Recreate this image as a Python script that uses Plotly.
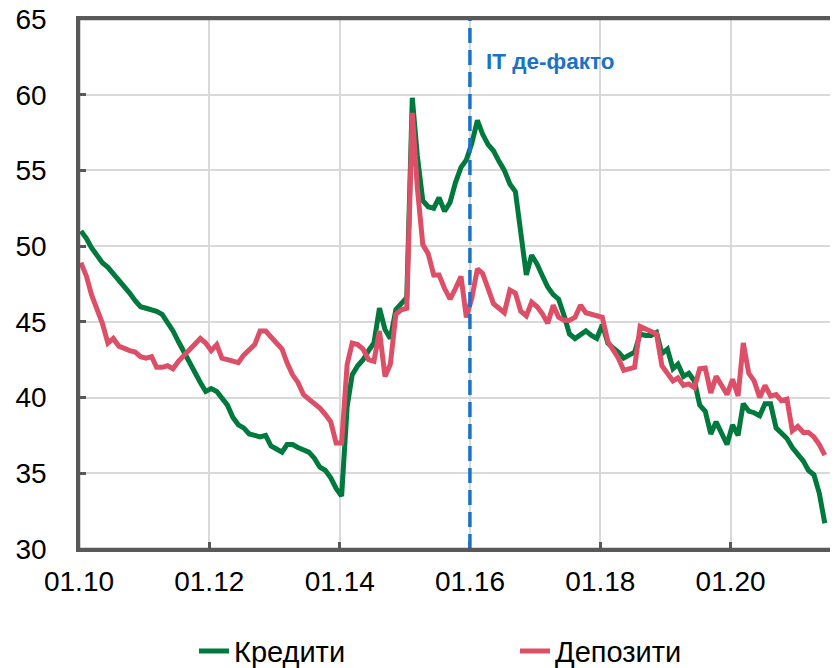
import plotly.graph_objects as go

# monthly observations, Jan 2010 .. Jun 2021
months = [f"{2010 + i // 12}-{i % 12 + 1:02d}-12" for i in range(138)]

credits = [
    51.0, 50.5, 49.9, 49.4, 48.9, 48.6, 48.2, 47.7, 47.3, 46.9, 46.4, 46.0,
    45.9, 45.8, 45.7, 45.5, 45.0, 44.4, 43.7, 43.0, 42.3, 41.6, 41.0, 40.4,
    40.6, 40.4, 40.0, 39.5, 38.7, 38.2, 38.0, 37.6, 37.5, 37.4, 37.5, 36.8,
    36.6, 36.4, 36.9, 36.9, 36.7, 36.5, 36.4, 36.0, 35.4, 35.2, 34.7, 34.0,
    33.5, 39.4, 41.5, 42.1, 42.5, 43.1, 43.6, 45.9, 44.5, 43.9, 45.8, 46.2,
    46.6, 59.8, 56.0, 53.0, 52.6, 52.5, 53.2, 52.3, 52.9, 54.2, 55.2, 55.7,
    56.8, 58.3, 57.4, 56.7, 56.3, 55.6, 55.0, 54.1, 53.6, 50.9, 48.1, 49.4,
    48.8, 48.0, 47.3, 46.8, 46.5, 45.4, 44.2, 43.9, 44.2, 44.4, 44.1, 43.9,
    44.8, 43.6, 43.3, 43.0, 42.6, 42.8, 43.0, 44.2, 44.1, 44.1, 44.3, 42.9,
    43.2, 41.9, 42.2, 41.4, 41.6, 41.1, 39.5, 39.1, 37.6, 38.4, 37.6, 36.9,
    38.2, 37.5, 39.6, 39.1, 39.0, 38.8, 39.6, 39.6, 38.0, 37.7, 37.3, 36.7,
    36.2, 35.8, 35.2, 34.9, 33.7, 31.7,
]

deposits = [
    48.9, 48.0, 46.8, 45.9, 44.9, 43.6, 43.9, 43.4, 43.2, 43.1, 43.0, 42.7,
    42.6, 42.7, 42.0, 42.0, 42.1, 41.9, 42.4, 42.8, 43.1, 43.5, 43.9, 43.6,
    43.1, 43.5, 42.6, 42.5, 42.4, 42.3, 42.8, 43.2, 43.5, 44.4, 44.4, 44.0,
    43.6, 43.2, 42.3, 41.5, 41.0, 40.2, 39.9, 39.6, 39.3, 38.9, 38.4, 37.0,
    37.0, 42.2, 43.6, 43.5, 43.2, 42.5, 42.4, 44.4, 41.4, 42.2, 45.5, 45.8,
    45.9, 58.8, 53.9, 50.1, 49.5, 48.1, 48.1, 47.2, 46.5, 47.2, 48.0, 45.3,
    46.6, 48.5, 48.2, 47.2, 46.2, 45.9, 45.6, 47.1, 46.9, 45.7, 45.4, 46.3,
    46.0, 45.5, 44.9, 46.1, 45.3, 45.1, 45.1, 45.3, 46.1, 45.6, 45.5, 45.4,
    45.3, 43.7, 43.2, 42.6, 41.8, 41.9, 42.0, 44.7, 44.5, 44.4, 44.2, 42.1,
    41.6, 41.1, 41.3, 40.8, 40.9, 40.65, 41.9, 41.95, 40.3, 41.4, 40.8, 40.2,
    41.2, 40.1, 43.6, 41.6, 41.1, 40.0, 40.8, 40.1, 40.2, 39.8, 39.9, 37.8,
    38.1, 37.7, 37.7, 37.4, 36.9, 36.2,
]

it_date = "2016-01-01"
it_label = "IT де-факто"

font = "Arial, Liberation Sans, sans-serif"
green = "#00793D"
red = "#DD4E67"
blue = "#1B72C9"
axis_grey = "#595959"

fig = go.Figure()
fig.add_trace(go.Scatter(x=months, y=credits, mode="lines", name="Кредити",
                         line=dict(color=green, width=5)))
fig.add_trace(go.Scatter(x=months, y=deposits, mode="lines", name="Депозити",
                         line=dict(color=red, width=5)))

fig.add_shape(type="line", xref="x", yref="paper", x0=it_date, x1=it_date, y0=0, y1=1,
              line=dict(color=blue, width=3.5, dash="15px,7px"))
# frame on top of the plot area
fig.add_shape(type="rect", xref="paper", yref="paper", x0=0, x1=1, y0=0, y1=1,
              line=dict(color=axis_grey, width=2.5), layer="above")
fig.add_annotation(x=it_date, y=62.2, xref="x", yref="y", text="<b>" + it_label + "</b>",
                   showarrow=False, xanchor="left", xshift=14,
                   font=dict(size=22.5, color=blue, family=font))

axis_style = dict(showline=True, linecolor=axis_grey, linewidth=2.5, mirror=True,
                  showgrid=True, gridcolor="#D9D9D9", gridwidth=1.5,
                  ticks="inside", ticklen=7, tickwidth=2.5, tickcolor=axis_grey,
                  tickfont=dict(size=28, color="black", family=font), zeroline=False,
                  automargin=False, ticklabeloverflow="allow")

fig.update_xaxes(type="date", range=["2010-01-01", "2021-07-28"], tick0="2010-01-01",
                 dtick="M24", tickformat="%m.%y", ticklabelstandoff=6, **axis_style)
fig.update_yaxes(range=[30, 65], dtick=5, ticklabelstandoff=24, **axis_style)

# the page body adds an 8px offset, so margins are shifted to compensate
fig.update_layout(
    width=838, height=668,
    margin=dict(l=71, r=13, t=11, b=127, autoexpand=False),
    plot_bgcolor="white", paper_bgcolor="white",
    font=dict(family=font, size=28, color="black"),
    legend=dict(orientation="h", x=0.1525, xanchor="left", y=-0.1925, yanchor="middle",
                font=dict(size=29), entrywidth=276, itemwidth=30),
)

fig.write_html("out.html")
